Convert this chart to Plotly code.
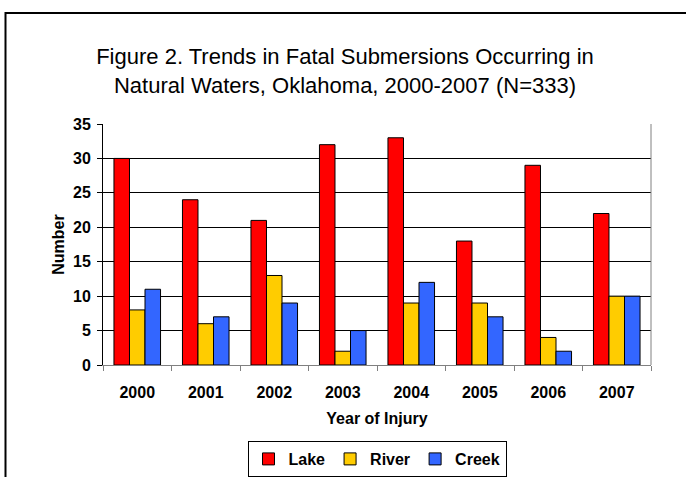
import plotly.graph_objects as go

years = ["2000", "2001", "2002", "2003", "2004", "2005", "2006", "2007"]
lake = [30, 24, 21, 32, 33, 18, 29, 22]
river = [8, 6, 13, 2, 9, 9, 4, 10]
creek = [11, 7, 9, 5, 12, 7, 2, 10]

series = [("Lake", lake, "#FF0000"), ("River", river, "#FFCC00"), ("Creek", creek, "#3366FF")]

FONT = "Liberation Sans, Arial, sans-serif"

fig = go.Figure()
for name, vals, col in series:
    fig.add_trace(go.Bar(x=years, y=vals, name=name,
                         marker=dict(color=col, line=dict(color="#000000", width=1))))

W, H = 686, 477
L, R, T, B = 103, 651, 124, 365
pw, ph = R - L, B - T

def px(x):
    return (x - L) / pw

def py(y):
    return (B - y) / ph

BOLD16 = dict(family=FONT, size=16, weight="bold", color="#000000")

fig.update_layout(
    width=W, height=H,
    margin=dict(l=L, r=W - R, t=T, b=H - B, pad=0, autoexpand=False),
    paper_bgcolor="white", plot_bgcolor="white",
    barmode="group", bargap=0.32, bargroupgap=0,
    font=dict(family=FONT, color="#000000", size=16),
    title=dict(text="Figure 2. Trends in Fatal Submersions Occurring in<br>Natural Waters, Oklahoma, 2000-2007 (N=333)",
               font=dict(family=FONT, size=22, color="#000000"),
               x=345 / W, xref="container", xanchor="center", y=1 - 64 / H, yanchor="middle"),
    xaxis=dict(type="category", tickson="boundaries", ticks="outside", ticklen=5,
               tickcolor="#808080", showline=True, linecolor="#808080", linewidth=1,
               showgrid=False, tickfont=BOLD16, ticklabelstandoff=13,
               title=dict(text="Year of Injury", font=BOLD16, standoff=12)),
    yaxis=dict(range=[0, 35], dtick=5, ticks="outside", ticklen=5, tickcolor="#000000",
               showline=True, linecolor="#000000", linewidth=1,
               showgrid=True, gridcolor="#000000", gridwidth=1, zeroline=False,
               tickfont=BOLD16, ticklabelstandoff=3,
               title=dict(text="Number", font=BOLD16, standoff=4)),
    legend=dict(orientation="h", x=0.5, xanchor="center", y=py(441), yanchor="top",
                bordercolor="#000000", borderwidth=1, bgcolor="white",
                font=BOLD16, itemwidth=30, tracegroupgap=0),
    showlegend=True,
)

fig.add_shape(type="line", xref="paper", yref="paper", x0=1, x1=1, y0=0, y1=1,
              line=dict(color="#808080", width=1))
fig.add_shape(type="rect", xref="paper", yref="paper",
              x0=px(5.5), x1=px(W + 10), y0=py(H + 10), y1=py(13),
              line=dict(color="#000000", width=2), layer="below")

fig.write_html("out.html", config={"displayModeBar": False},
               post_script="document.body.style.margin='0';document.body.style.overflow='hidden';")
